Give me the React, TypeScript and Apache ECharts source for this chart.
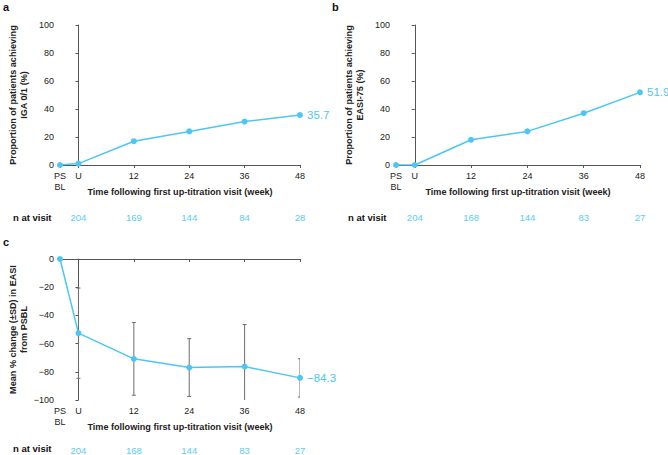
import React, { useEffect, useRef } from "react";
import * as echarts from "echarts";

// ---- data ----
const visitWeeks = [-4, 0, 12, 24, 36, 48];
const visitLabels = ["PS\nBL", "U", "12", "24", "36", "48"];
const nWeeks = [0, 12, 24, 36, 48];
const nAtVisitA = [204, 169, 144, 84, 28];
const nAtVisitB = [204, 168, 144, 83, 27];
const nAtVisitC = [204, 168, 144, 83, 27];
const igaValues = [0, 1, 17, 24, 31, 35.7];
const easi75Values = [0, 0, 18, 24, 37, 51.9];
const easiChangeMean = [0, -52.6, -70.8, -77, -76.3, -84.3];
const easiChangeSD = [0, 32, 25.8, 20.5, 29.8, 13.6];

const FONT = "'Liberation Sans', Arial, Helvetica, sans-serif";
const BLUE = "#4dc6f4";
const NBLUE = "#5ccbf6";
const AXIS = "#555555";
const TEXT = "#222222";

const fmtNum = (v: number) => (v < 0 ? "\u2212" + Math.abs(v) : String(v));

function xAxisMain(gridIndex: number) {
  return {
    type: "value",
    gridIndex,
    min: -4,
    max: 48,
    name: "Time following first up-titration visit (week)",
    nameLocation: "middle",
    nameGap: 22,
    nameMoveOverlap: false,
    nameTextStyle: { fontFamily: FONT, fontWeight: "bold", fontSize: 9.1, color: TEXT },
    axisLine: { show: true, lineStyle: { color: AXIS, width: 1 } },
    axisTick: { show: true, length: 3, customValues: visitWeeks, lineStyle: { color: AXIS } },
    axisLabel: {
      customValues: visitWeeks,
      formatter: (v: number) => visitLabels[visitWeeks.indexOf(v)] ?? "",
      fontFamily: FONT,
      fontSize: 9,
      color: TEXT,
      margin: 5,
      lineHeight: 11,
    },
    splitLine: { show: false },
  };
}

function xAxisN(gridIndex: number, nValues: number[], offset: number) {
  return {
    type: "value",
    gridIndex,
    min: -4,
    max: 48,
    position: "bottom",
    offset,
    axisLine: { show: false },
    axisTick: { show: false },
    axisLabel: {
      customValues: nWeeks,
      formatter: (v: number) => String(nValues[nWeeks.indexOf(v)] ?? ""),
      fontFamily: FONT,
      fontSize: 9.5,
      color: NBLUE,
      margin: 0,
    },
    splitLine: { show: false },
  };
}

function yAxis(gridIndex: number, name: string, min: number, max: number) {
  return {
    type: "value",
    gridIndex,
    min,
    max,
    interval: 20,
    name,
    nameLocation: "middle",
    nameGap: 30,
    nameMoveOverlap: false,
    nameTextStyle: { fontFamily: FONT, fontWeight: "bold", fontSize: 9.1, color: TEXT, lineHeight: 11.5 },
    axisLine: { show: true, lineStyle: { color: AXIS, width: 1 } },
    axisTick: { show: true, length: 3, lineStyle: { color: AXIS } },
    axisLabel: { formatter: fmtNum, fontFamily: FONT, fontSize: 9, color: TEXT, margin: 6 },
    splitLine: { show: false },
  };
}

function lineSeries(xAxisIndex: number, yAxisIndex: number, values: number[]) {
  const last = values.length - 1;
  return {
    type: "line",
    xAxisIndex,
    yAxisIndex,
    symbol: "circle",
    symbolSize: 6,
    itemStyle: { color: BLUE },
    lineStyle: { color: BLUE, width: 1.5 },
    z: 3,
    data: values.map((v, i) =>
      i === last
        ? {
            value: [visitWeeks[i], v],
            label: {
              show: true,
              position: "right",
              distance: 4,
              formatter: fmtNum(v),
              fontFamily: FONT,
              fontSize: 11.5,
              color: BLUE,
            },
          }
        : { value: [visitWeeks[i], v] }
    ),
  };
}

export default function App() {
  const ref = useRef<HTMLDivElement>(null);
  useEffect(() => {
    if (!ref.current) return;
    const chart = echarts.init(ref.current, null, { renderer: "svg" });
    const errData = easiChangeMean
      .map((m, i) => [visitWeeks[i], m - easiChangeSD[i], m + easiChangeSD[i], easiChangeSD[i]])
      .filter((d) => d[3] > 0);
    chart.setOption({
      animation: false,
      backgroundColor: "#ffffff",
      textStyle: { fontFamily: FONT },
      grid: [
        { left: 60, top: 25, width: 240, height: 140 },
        { left: 396, top: 25, width: 244, height: 140 },
        { left: 60, top: 259, width: 240, height: 141 },
      ],
      xAxis: [
        xAxisMain(0),
        xAxisMain(1),
        xAxisMain(2),
        xAxisN(0, nAtVisitA, 47),
        xAxisN(1, nAtVisitB, 47),
        xAxisN(2, nAtVisitC, 45),
      ],
      yAxis: [
        yAxis(0, "Proportion of patients achieving\nIGA 0/1 (%)", 0, 100),
        yAxis(1, "Proportion of patients achieving\nEASI-75 (%)", 0, 100),
        yAxis(2, "Mean % change (\u00b1SD) in EASI\nfrom PSBL", -100, 0),
      ],
      series: [
        lineSeries(0, 0, igaValues),
        lineSeries(1, 1, easi75Values),
        {
          type: "custom",
          xAxisIndex: 2,
          yAxisIndex: 2,
          clip: true,
          z: 2,
          data: errData,
          renderItem: (params: any, api: any) => {
            const x = api.value(0);
            const lo = api.coord([x, api.value(1)]);
            const hi = api.coord([x, api.value(2)]);
            const cw = 2;
            const style = { stroke: "#6e6e6e", lineWidth: 1 };
            return {
              type: "group",
              children: [
                { type: "line", shape: { x1: lo[0], y1: lo[1], x2: hi[0], y2: hi[1] }, style },
                { type: "line", shape: { x1: lo[0] - cw, y1: lo[1], x2: lo[0] + cw, y2: lo[1] }, style },
                { type: "line", shape: { x1: hi[0] - cw, y1: hi[1], x2: hi[0] + cw, y2: hi[1] }, style },
              ],
            };
          },
        },
        lineSeries(2, 2, easiChangeMean),
      ],
      graphic: [
        { type: "text", left: 3, top: 1, style: { text: "a", font: `bold 11px ${FONT}`, fill: "#111" } },
        { type: "text", left: 332, top: 1, style: { text: "b", font: `bold 11px ${FONT}`, fill: "#111" } },
        { type: "text", left: 3, top: 236, style: { text: "c", font: `bold 11px ${FONT}`, fill: "#111" } },
        { type: "text", left: 13, top: 212, style: { text: "n at visit", font: `bold 9.5px ${FONT}`, fill: "#111" } },
        { type: "text", left: 348, top: 212, style: { text: "n at visit", font: `bold 9.5px ${FONT}`, fill: "#111" } },
        { type: "text", left: 13, top: 443, style: { text: "n at visit", font: `bold 9.5px ${FONT}`, fill: "#111" } },
      ],
    });
    return () => chart.dispose();
  }, []);
  return (
    <div
      ref={ref}
      style={{ position: "absolute", left: 0, top: 0, width: 668, height: 455, background: "#fff" }}
    />
  );
}
